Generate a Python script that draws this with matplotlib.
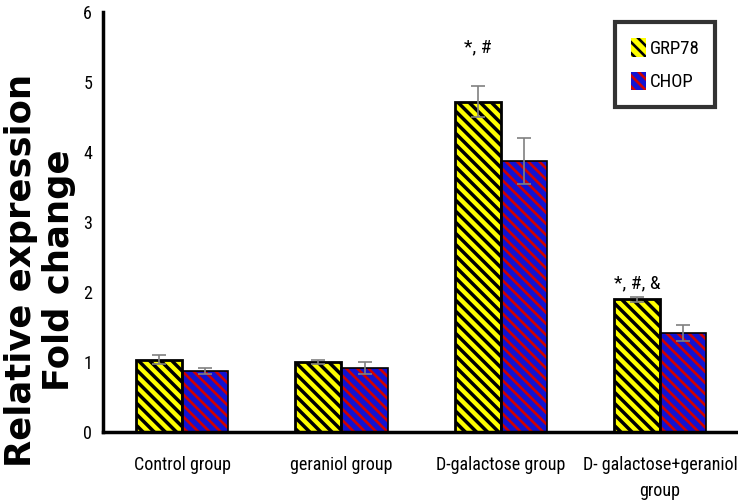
import matplotlib
matplotlib.use("Agg")
import matplotlib.pyplot as plt
from matplotlib.patches import Patch
import numpy as np
from matplotlib import font_manager

categories = ["Control group", "geraniol group", "D-galactose group", "D- galactose+geraniol\ngroup"]
grp78 = [1.04, 1.01, 4.72, 1.90]
grp78_err = [0.06, 0.03, 0.22, 0.04]
chop = [0.88, 0.92, 3.87, 1.42]
chop_err = [0.04, 0.08, 0.33, 0.12]
annotations = ["", "", "*, #", "*, #, &"]
annotation_y = [0, 0, 5.49, 2.13]
yticks = [0, 1, 2, 3, 4, 5, 6]

names = {f.name for f in font_manager.fontManager.ttflist}
narrow = "DejaVu Sans"
for cand in ["Liberation Sans Narrow", "Roboto Condensed", "Open Sans Condensed", "DejaVu Sans Condensed", "Lato", "Roboto"]:
    if cand in names:
        narrow = cand
        break

def fp(size):
    return font_manager.FontProperties(family=narrow, size=size)

fig = plt.figure(figsize=(7.38, 5.04), dpi=100)
ax = fig.add_axes([0.14, 0.142, 0.86, 0.834])

x = np.arange(len(categories))
w = 0.29
H = "\\\\\\"
BLUE = "#1212d2"
RED = "#d00000"

plt.rcParams['hatch.linewidth'] = 2.5
ax.bar(x - w/2, grp78, w, color="#ffff00", edgecolor="black", hatch=H, linewidth=0, zorder=2)
h1 = Patch(facecolor="#ffff00", edgecolor="black", hatch=H, linewidth=0)
plt.rcParams['hatch.linewidth'] = 1.9
ax.bar(x + w/2, chop, w, color=BLUE, edgecolor=RED, hatch=H, linewidth=0, zorder=2)
h2 = Patch(facecolor=BLUE, edgecolor=RED, hatch=H, linewidth=0)

ax.bar(x - w/2, grp78, w, fill=False, edgecolor="black", linewidth=2, zorder=3)
ax.bar(x + w/2, chop, w, fill=False, edgecolor="black", linewidth=1.2, zorder=3)

ax.errorbar(x - w/2, grp78, yerr=grp78_err, fmt="none", ecolor="#808080", elinewidth=1.2, capsize=5, capthick=1.2, zorder=4)
ax.errorbar(x + w/2, chop, yerr=chop_err, fmt="none", ecolor="#808080", elinewidth=1.2, capsize=5, capthick=1.2, zorder=4)

for xi, ty, t in zip(x, annotation_y, annotations):
    if t:
        ax.text(xi - w/2, ty, t, ha="center", va="center", fontproperties=fp(14))

ax.set_xlim(-0.495, 3.49)
ax.set_ylim(0, 6)
ax.set_yticks(yticks)
ax.set_yticklabels([str(t) for t in yticks], fontproperties=fp(13))
ax.set_xticks(x)
ax.set_xticklabels(categories, fontproperties=fp(13), va="top", linespacing=1.55)
ax.tick_params(axis="both", length=0)
ax.tick_params(axis="y", pad=8)
ax.tick_params(axis="x", pad=17)

for s in ["top", "right"]:
    ax.spines[s].set_visible(False)
for s in ["left", "bottom"]:
    ax.spines[s].set_linewidth(2.5)

fig.text(40/738, 1 - 270/504, "Relative expression\nFold change", rotation=90, ha="center", va="center",
         fontsize=25.5, fontweight="bold", family="DejaVu Sans", linespacing=1.12)

leg = ax.legend([h1, h2], ["GRP78", "CHOP"], loc="upper left", bbox_to_anchor=(0.806, 0.976),
                prop=fp(13.5), frameon=True, fancybox=False,
                handlelength=0.8, handleheight=1.15, handletextpad=0.2, borderpad=0.85,
                labelspacing=0.75, borderaxespad=0)
leg.get_frame().set_edgecolor("black")
leg.get_frame().set_linewidth(3)

fig.savefig("out.png", dpi=100)
